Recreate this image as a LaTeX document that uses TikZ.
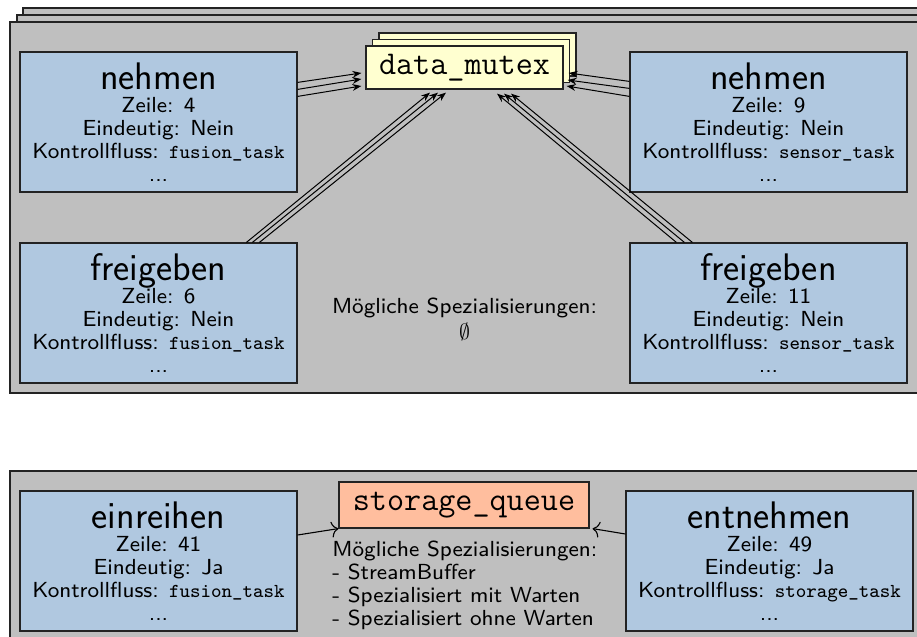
\documentclass[tikz,border=0pt]{standalone}
\usepackage{fontspec}
\usetikzlibrary{arrows.meta,shadows}

% small optical sizes of Latin Modern, set larger
\newfontfamily\labelsans{lmsans8-regular}[Extension=.otf]
\newfontfamily\labelmono{lmmono8-regular}[Extension=.otf]

\definecolor{groupgray}{RGB}{191,191,191}
\definecolor{opblue}{RGB}{176,200,224}
\definecolor{objyellow}{RGB}{255,255,208}
\definecolor{objorange}{RGB}{255,190,158}
\definecolor{edgedark}{RGB}{35,35,35}

\newcommand\optitle[1]{{\sffamily\fontsize{19.2}{11.5}\selectfont #1}}
\newcommand\taskname[1]{{\labelmono\fontsize{9.9}{11.5}\selectfont #1}}

\tikzset{
  grp/.style={fill=groupgray, draw=edgedark, line width=0.7pt},
  opbox/.style={draw=edgedark, fill=opblue, line width=0.6pt, align=center,
    minimum height=70pt, inner sep=0pt,
    font=\labelsans\fontsize{10.9}{11.5}\selectfont},
  objbox/.style={draw=edgedark, line width=0.6pt, inner sep=0pt,
    font=\ttfamily\fontsize{16.6}{18}\selectfont},
  lockarrow/.style={-{Stealth[length=4.5pt,width=3.4pt]}, line width=0.5pt},
  usearrow/.style={-{To[length=3.5pt,width=8pt]}, line width=0.55pt},
  note/.style={font=\labelsans\fontsize{10.9}{11.5}\selectfont, inner sep=0pt},
}

\begin{document}
\begin{tikzpicture}[x=0.5pt, y=-0.5pt]
\useasboundingbox (0,0) rectangle (917,637);
\clip (0,0) rectangle (917,637);

% stacked group of the mutex accesses
\draw[grp] (23,8) rectangle (960,300);
\draw[grp] (17,15) rectangle (960,300);
\draw[grp] (10,22) rectangle (960,393);

% group of the queue accesses
\draw[grp] (10,471) rectangle (960,700);

% shared objects
\node[objbox, fill=objyellow, minimum width=98.5pt, minimum height=21.5pt,
  double copy shadow={shadow xshift=3.25pt, shadow yshift=3.25pt,
    fill=objyellow, draw=edgedark, line width=0.6pt}]
  (m) at (464.5,67.5) {data\_mutex};
\node[objbox, fill=objorange, minimum width=125pt, minimum height=23pt]
  (q) at (464,505) {storage\_queue};

% operations on data_mutex
\node[opbox, minimum width=138.5pt] (n1) at (158.5,122)
  {\optitle{nehmen}\\Zeile: 4\\Eindeutig: Nein\\Kontrollfluss: \taskname{fusion\_task}\\...};
\node[opbox, minimum width=138.5pt] (n2) at (768.5,122)
  {\optitle{nehmen}\\Zeile: 9\\Eindeutig: Nein\\Kontrollfluss: \taskname{sensor\_task}\\...};
\node[opbox, minimum width=138.5pt] (f1) at (158.5,313)
  {\optitle{freigeben}\\Zeile: 6\\Eindeutig: Nein\\Kontrollfluss: \taskname{fusion\_task}\\...};
\node[opbox, minimum width=138.5pt] (f2) at (768.5,313)
  {\optitle{freigeben}\\Zeile: 11\\Eindeutig: Nein\\Kontrollfluss: \taskname{sensor\_task}\\...};

% operations on storage_queue
\node[opbox, minimum width=138.5pt] (e1) at (158.5,561)
  {\optitle{einreihen}\\Zeile: 41\\Eindeutig: Ja\\Kontrollfluss: \taskname{fusion\_task}\\...};
\node[opbox, minimum width=143.5pt] (e2) at (769.5,561)
  {\optitle{entnehmen}\\Zeile: 49\\Eindeutig: Ja\\Kontrollfluss: \taskname{storage\_task}\\...};

% specialisation notes
\node[note, anchor=north, align=center] (specA) at (464.5,298)
  {Mögliche Spezialisierungen:\\[1.5pt]$\emptyset$};
\node[note, anchor=north west, align=left] (specB) at (332,541)
  {Mögliche Spezialisierungen:\\- StreamBuffer\\- Spezialisiert mit Warten\\- Spezialisiert ohne Warten};

% triple access arrows to the mutex
\draw[lockarrow] ([shift={(0,31)}]n1.north east) -- ([shift={(-4,5.5)}]m.west);
\draw[lockarrow] ([shift={(0,38)}]n1.north east) -- ([shift={(-4,11.5)}]m.west);
\draw[lockarrow] ([shift={(0,45)}]n1.north east) -- ([shift={(-4,18.5)}]m.west);

\draw[lockarrow] ([shift={(0,30)}]n2.north west) -- ([shift={(5,5.5)}]m.east);
\draw[lockarrow] ([shift={(0,37)}]n2.north west) -- ([shift={(4,12.5)}]m.east);
\draw[lockarrow] ([shift={(0,45)}]n2.north west) -- ([shift={(3,18.5)}]m.east);

\draw[lockarrow] ([shift={(227,0)}]f1.north west) -- ([shift={(-34.5,3)}]m.south);
\draw[lockarrow] ([shift={(233,0)}]f1.north west) -- ([shift={(-26.5,3)}]m.south);
\draw[lockarrow] ([shift={(240,0)}]f1.north west) -- ([shift={(-18.5,3)}]m.south);

\draw[lockarrow] ([shift={(47,0)}]f2.north west) -- ([shift={(32.5,4)}]m.south);
\draw[lockarrow] ([shift={(55,0)}]f2.north west) -- ([shift={(39.5,4)}]m.south);
\draw[lockarrow] ([shift={(63,0)}]f2.north west) -- ([shift={(46.5,4)}]m.south);

% queue accesses
\draw[usearrow] ([shift={(0,-26)}]e1.east) -- (q.south west);
\draw[usearrow] ([shift={(0,-27)}]e2.west) -- ([shift={(3,0)}]q.south east);
\end{tikzpicture}
\end{document}
